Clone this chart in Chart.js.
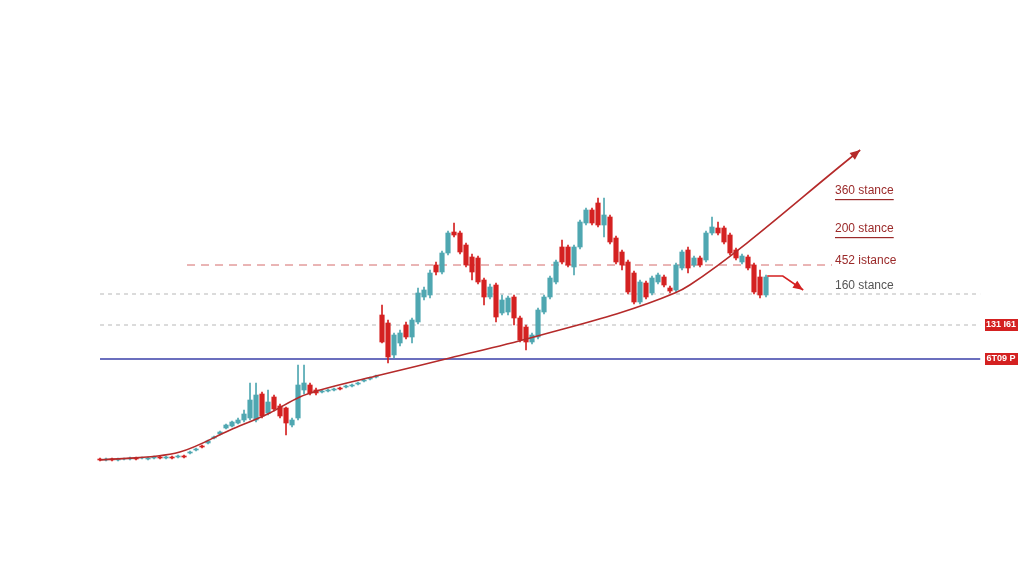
<!DOCTYPE html>
<html>
<head>
<meta charset="utf-8">
<script src="https://cdn.jsdelivr.net/npm/chart.js@4.4.1/dist/chart.umd.min.js"></script>
<style>
  html, body { margin: 0; padding: 0; background: #fff; }
  #wrap { width: 1024px; height: 585px; }
</style>
</head>
<body>
<div id="wrap"><canvas id="chart"></canvas></div>
<script>
const UP   = '#4fa7b1';
const DOWN = '#d42121';
const TREND = '#b52a2a';

const OPEN  = [21,20,21,20,21,21,22,22,21,22,23,22,23,23,24, 27,30,34,37,42,46, 52,54,57,60,62,60,86,67,83,74,72,55,62,90,95,90, 88,89,90,92,93,94,96,99,101,103,
  165,157,125,137,155,143,158,183,185,215,208,227,248,247,235,223,222,200,183,195,167,168,183,162,153,138,143,168,183,198,233,233,213,233,257,270,277,255,263,242,228,218,207,178,197,187,198,203,192,190,212,230,215,222,220,247,252,252,245,230,218,223,215,203,185];
const CLOSE = [20,21,20,21,21,22,21,22,22,23,22,23,22,24,23, 28,31,33,39,43,48, 55,58,60,66,80,85,64,78,71,64,57,60,95,97,87,87, 89,90,91,91,94,95,97,100,102,104,
  138,123,145,147,143,160,187,190,207,208,227,247,245,228,215,208,198,183,193,163,180,182,162,140,138,145,170,183,202,218,218,215,233,258,270,257,255,265,238,218,215,188,178,198,183,202,205,195,189,215,228,212,222,215,247,253,247,238,227,222,224,212,188,185,203];
const HIGH  = [22,22,22,22,22,23,23,23,23,24,24,24,24,25,25, 29,32,35,40,44,49, 56,59,62,70,97,97,88,90,85,76,73,62,115,115,97,92, 90,91,92,93,95,96,98,101,103,105,
  175,160,147,150,158,162,192,193,210,218,229,249,257,249,237,226,224,202,196,197,185,184,185,164,155,147,172,185,204,220,240,235,235,260,272,272,282,282,265,244,230,220,209,200,199,204,207,205,194,217,230,233,224,224,249,263,258,254,247,232,226,225,217,210,205];
const LOW   = [19,19,19,19,20,20,20,21,20,21,21,21,21,22,22, 26,29,32,36,41,45, 51,53,56,58,60,58,62,65,69,62,45,53,60,86,85,85, 87,88,89,90,92,93,95,98,100,102,
  137,117,122,134,141,137,156,180,182,205,206,225,243,226,213,200,196,175,181,158,165,165,155,138,130,136,141,166,181,196,216,213,205,231,255,255,253,243,236,216,210,186,176,176,181,185,196,193,187,188,210,207,213,213,218,245,245,236,225,220,216,210,186,182,183];

// trend line (x = candle index, y = price)
const TREND_X = [0,13.3,21.7,28.3,33.3,36.7,46.7,58.3,71.7,95.8,98.3,126.7];
const TREND_Y = [20,28,50,67,83,90,105,122,142,187,195,330];
const ARROW_X = [111.2,113.8,117.2];
const ARROW_Y = [204,204,190];

const LEVEL_LABELS = ['360 stance','200 stance','452 istance','160 stance'];
const LEVEL_PRICES = [289,251,219,194];
const TAG_LABELS = ['131 I61','6T09 P'];
const TAG_PRICES = [155,121];

const idx = OPEN.map((_, i) => i);
const col = idx.map(i => CLOSE[i] >= OPEN[i] ? UP : DOWN);

const arrowHeads = {
  id: 'arrowHeads',
  afterDatasetsDraw(chart) {
    const { ctx, scales: { x, y } } = chart;
    const head = (xs, ys, color) => {
      const n = xs.length;
      const x1 = x.getPixelForValue(xs[n - 2]), y1 = y.getPixelForValue(ys[n - 2]);
      const x2 = x.getPixelForValue(xs[n - 1]), y2 = y.getPixelForValue(ys[n - 1]);
      const a = Math.atan2(y2 - y1, x2 - x1);
      ctx.save();
      ctx.fillStyle = color;
      ctx.beginPath();
      ctx.moveTo(x2, y2);
      ctx.lineTo(x2 - 11 * Math.cos(a - 0.4), y2 - 11 * Math.sin(a - 0.4));
      ctx.lineTo(x2 - 11 * Math.cos(a + 0.4), y2 - 11 * Math.sin(a + 0.4));
      ctx.closePath();
      ctx.fill();
      ctx.restore();
    };
    head(TREND_X, TREND_Y, TREND);
    head(ARROW_X, ARROW_Y, DOWN);

    ctx.save();
    ctx.font = '12px "Liberation Sans", Arial, sans-serif';
    ctx.textBaseline = 'middle';
    LEVEL_LABELS.forEach((t, i) => {
      const px = x.getPixelForValue(122.5), py = y.getPixelForValue(LEVEL_PRICES[i]);
      ctx.fillStyle = i < 3 ? '#9b2a2a' : '#555';
      ctx.fillText(t, px, py);
      if (i < 2) {
        const w = ctx.measureText(t).width;
        ctx.fillRect(px, py + 8, w, 1.2);
      }
    });
    ctx.font = 'bold 9px "Liberation Sans", Arial, sans-serif';
    TAG_LABELS.forEach((t, i) => {
      const py = y.getPixelForValue(TAG_PRICES[i]);
      ctx.fillStyle = DOWN;
      ctx.fillRect(985, py - 6, 33, 12);
      ctx.fillStyle = '#fff';
      ctx.textAlign = 'center';
      ctx.fillText(t, 1001, py);
    });
    ctx.restore();
  }
};

const hline = (x0, x1, p, color, dash, w) => ({
  type: 'line', data: [{ x: x0, y: p }, { x: x1, y: p }], borderColor: color,
  borderDash: dash, borderWidth: w, pointRadius: 0, order: 5,
});

new Chart(document.getElementById('chart'), {
  data: {
    datasets: [
      hline(0, 146.7, 186, '#b8b8b8', [4, 4], 1),
      hline(0, 146.7, 155, '#b8b8b8', [4, 4], 1),
      hline(0, 146.7, 121, '#3a3fa8', [], 1.5),
      hline(14.5, 122, 215, '#d46a6a', [8, 6], 1),
      { type: 'bar', data: idx.map(i => ({ x: i, y: [LOW[i], HIGH[i]] })), backgroundColor: col, barThickness: 1, grouped: false, order: 3 },
      { type: 'bar', data: idx.map(i => ({ x: i, y: [OPEN[i], CLOSE[i]] })), backgroundColor: col, barThickness: 4.5, grouped: false, order: 2 },
      { type: 'line', data: TREND_X.map((v, i) => ({ x: v, y: TREND_Y[i] })), borderColor: TREND, borderWidth: 1.6, pointRadius: 0, cubicInterpolationMode: 'monotone', order: 1 },
      { type: 'line', data: ARROW_X.map((v, i) => ({ x: v, y: ARROW_Y[i] })), borderColor: DOWN, borderWidth: 1.6, pointRadius: 0, order: 1 },
    ],
  },
  options: {
    responsive: true,
    maintainAspectRatio: false,
    animation: false,
    layout: { padding: 0 },
    plugins: { legend: { display: false }, tooltip: { enabled: false } },
    scales: {
      x: { type: 'linear', display: false, offset: false, min: -16.67, max: 154 },
      y: { display: false, min: -105, max: 480 },
    },
  },
  plugins: [arrowHeads],
});
</script>
</body>
</html>
